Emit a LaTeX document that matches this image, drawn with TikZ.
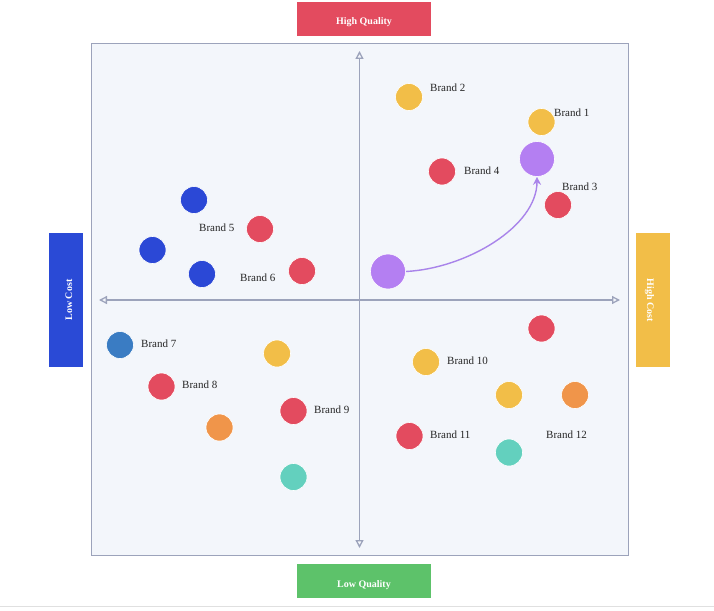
\documentclass[tikz,border=0pt]{standalone}
\usepackage{fontspec}
\setmainfont{Liberation Serif}
\usetikzlibrary{arrows.meta}
\definecolor{hqred}{HTML}{E34B5F}
\definecolor{lqgreen}{HTML}{5DC26A}
\definecolor{lcblue}{HTML}{2A4AD6}
\definecolor{hcyellow}{HTML}{F2BE48}
\definecolor{dotblue}{HTML}{2B48D6}
\definecolor{dotsteel}{HTML}{3A7CC3}
\definecolor{dotorange}{HTML}{F0954A}
\definecolor{dotteal}{HTML}{63D0BE}
\definecolor{dotpurple}{HTML}{B47FF2}
\definecolor{linkpurple}{HTML}{A984EA}
\definecolor{framegray}{HTML}{9CA3BB}
\definecolor{plotbg}{HTML}{F3F6FB}
\tikzset{>={Triangle[open,length=8pt,width=8pt]},
  dot/.style={circle,fill=#1,draw=white,line width=0.6pt,minimum size=27pt,inner sep=0pt},
  bigdot/.style={dot=#1,minimum size=35pt},
  brand/.style={anchor=west,inner sep=0pt,text=black!85,font=\fontsize{11}{13}\selectfont},
  tag/.style={fill=#1,text=white,minimum width=134pt,minimum height=34pt,inner sep=0pt,
    text height=12pt,text depth=0pt,font=\fontsize{10}{12}\selectfont\bfseries},
  axis/.style={framegray,line width=1.3pt}}

\begin{document}
\begin{tikzpicture}[x=1pt,y=-1pt]
    \useasboundingbox (0,0) rectangle (714,610);
    \draw[black!12] (0,606.5) -- (714,606.5);
    \node[draw=framegray,fill=plotbg,line width=1.6pt,minimum width=537pt,minimum height=512pt,inner sep=0pt] (plot) at (360,299.5) {};
    \coordinate (top) at (359.5,51);
    \coordinate (bottom) at (359.5,548);
    \coordinate (left) at (99,300);
    \coordinate (right) at (620,300);
    \draw[axis,<->] (left) -- (right);
    \draw[axis,<->] (bottom) -- (top);
    \node[tag=hqred] (hq) at (364,19) {High Quality};
    \node[tag=lqgreen] (lq) at (364,581) {Low Quality};
    \node[tag=lcblue,rotate=90] (lc) at (66,300) {Low Cost};
    \node[tag=hcyellow,rotate=-90] (hc) at (653,300) {High Cost};
    \foreach \n/\x/\y/\c in {y1/541.5/122/hcyellow, y2/409/97/hcyellow, y3/426/362/hcyellow, y4/509/395/hcyellow, y5/277/353.5/hcyellow,
        r1/442/171.5/hqred, r2/558/205/hqred, r3/260/229/hqred, r4/302/271/hqred, r5/541.5/328.5/hqred,
        r6/409.5/436/hqred, r7/161.5/386.5/hqred, r8/293.5/411/hqred,
        u1/194/200/dotblue, u2/152.5/250/dotblue, u3/202/274/dotblue, s1/120/345/dotsteel,
        o1/575/395/dotorange, o2/219.5/427.5/dotorange, t1/509/452.5/dotteal, t2/293.5/477/dotteal}
        \node[dot=\c] (\n) at (\x,\y) {};
    \node[bigdot=dotpurple] (p1) at (388,271.5) {};
    \node[bigdot=dotpurple] (p2) at (537,159) {};
    \draw[linkpurple,line width=1.4pt,-{Stealth[length=8pt,width=8pt]}] (p1.east) .. controls +(60,-3) and +(0,50) .. (p2.south);
    \foreach \t/\x/\y in {1/554/113, 2/430/88, 3/562/187, 4/464/171, 5/199/228, 6/240/278,
        7/141/344, 8/182/385, 9/314/410, 10/447/361, 11/430/435, 12/546/435}
        \node[brand] (l\t) at (\x,\y) {Brand \t};
\end{tikzpicture}
\end{document}
